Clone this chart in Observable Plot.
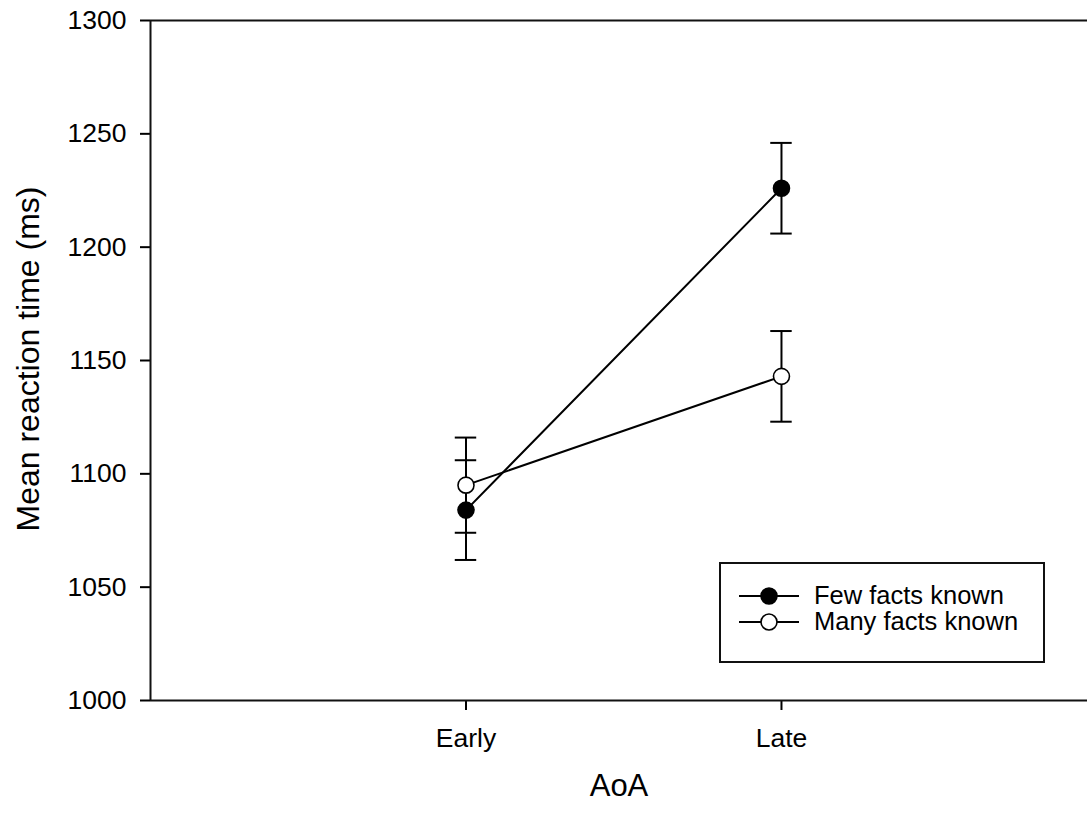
<!DOCTYPE html>
<html>
<head>
<meta charset="utf-8">
<script src="https://cdn.jsdelivr.net/npm/d3@7"></script>
<script src="https://cdn.jsdelivr.net/npm/@observablehq/plot@0.6"></script>
<style>
  html, body { margin: 0; padding: 0; background: #fff; }
  #wrap { position: relative; width: 1087px; height: 814px; font-family: "Liberation Sans", Arial, sans-serif; }
  #legend { position: absolute; left: 719px; top: 562px; width: 322px; height: 97px;
            border: 2px solid #111; background: #fff; }
  #legend .row { position: absolute; left: 0; height: 26px; display: flex; align-items: center; }
  #legend svg { display: block; }
  #legend span { font-size: 25.5px; line-height: 1; color: #000; margin-left: 14px; white-space: nowrap; }
</style>
</head>
<body>
<div id="wrap"></div>
<script>
// ---- data ----
const categories = ["Early", "Late"];
const seriesNames = ["Few facts known", "Many facts known"];
const fewMeans = [1084, 1226];
const fewErrors = [22, 20];
const manyMeans = [1095, 1143];
const manyErrors = [21, 20];
const yTicks = [1000, 1050, 1100, 1150, 1200, 1250, 1300];
const xTitle = "AoA";
const yTitle = "Mean reaction time (ms)";

// ---- table ----
const rows = [];
categories.forEach((c, i) => {
  rows.push({series: seriesNames[0], cat: c, pos: i + 1, mean: fewMeans[i], lo: fewMeans[i] - fewErrors[i], hi: fewMeans[i] + fewErrors[i]});
  rows.push({series: seriesNames[1], cat: c, pos: i + 1, mean: manyMeans[i], lo: manyMeans[i] - manyErrors[i], hi: manyMeans[i] + manyErrors[i]});
});
const few = rows.filter(d => d.series === seriesNames[0]);
const many = rows.filter(d => d.series === seriesNames[1]);
const cap = 0.034;

const chart = Plot.plot({
  width: 1087,
  height: 814,
  marginTop: 20,
  marginBottom: 114,
  marginLeft: 150,
  marginRight: 0,
  style: {fontFamily: '"Liberation Sans", Arial, sans-serif', fontSize: "26px", color: "#000", background: "#fff"},
  x: {domain: [0, 2.97]},
  y: {domain: [1000, 1300]},
  marks: [
    Plot.axisY({ticks: yTicks, tickFormat: d => String(d), tickSize: 10, tickPadding: 14, strokeWidth: 2, fontSize: 26.5, label: null}),
    Plot.axisX({ticks: categories.map((c, i) => i + 1), tickFormat: v => categories[v - 1], tickSize: 10, tickPadding: 18, strokeWidth: 2, fontSize: 26.5, label: null}),
    Plot.ruleY([1000, 1300], {stroke: "#111", strokeWidth: 2}),
    Plot.ruleX([0], {stroke: "#111", strokeWidth: 2}),
    Plot.line(few, {x: "pos", y: "mean", stroke: "#000", strokeWidth: 2}),
    Plot.line(many, {x: "pos", y: "mean", stroke: "#000", strokeWidth: 2}),
    Plot.ruleX(rows, {x: "pos", y1: "lo", y2: "hi", stroke: "#000", strokeWidth: 2}),
    Plot.ruleY(rows, {y: "lo", x1: d => d.pos - cap, x2: d => d.pos + cap, stroke: "#000", strokeWidth: 2}),
    Plot.ruleY(rows, {y: "hi", x1: d => d.pos - cap, x2: d => d.pos + cap, stroke: "#000", strokeWidth: 2}),
    Plot.dot(many, {x: "pos", y: "mean", r: 8, fill: "#fff", stroke: "#000", strokeWidth: 1.6}),
    Plot.dot(few, {x: "pos", y: "mean", r: 8, fill: "#000", stroke: "#000", strokeWidth: 1.6}),
    Plot.text([xTitle], {frameAnchor: "bottom", dy: 95, fontSize: 31, fill: "#000"}),
    Plot.text([yTitle], {frameAnchor: "left", textAnchor: "middle", dx: -122, dy: -1.5, rotate: -90, fontSize: 32, fill: "#000"})
  ]
});

const wrap = document.getElementById("wrap");
wrap.appendChild(chart);

// ---- legend ----
const legend = document.createElement("div");
legend.id = "legend";
const fills = ["#000", "#fff"];
seriesNames.forEach((name, i) => {
  const row = document.createElement("div");
  row.className = "row";
  row.style.top = (19 + i * 26) + "px";
  row.style.left = "17px";
  row.innerHTML = `<svg width="62" height="26"><line x1="1" x2="61" y1="13" y2="13" stroke="#000" stroke-width="2"/><circle cx="31" cy="13" r="8" fill="${fills[i]}" stroke="#000" stroke-width="1.6"/></svg><span>${name}</span>`;
  legend.appendChild(row);
});
wrap.appendChild(legend);
</script>
</body>
</html>
